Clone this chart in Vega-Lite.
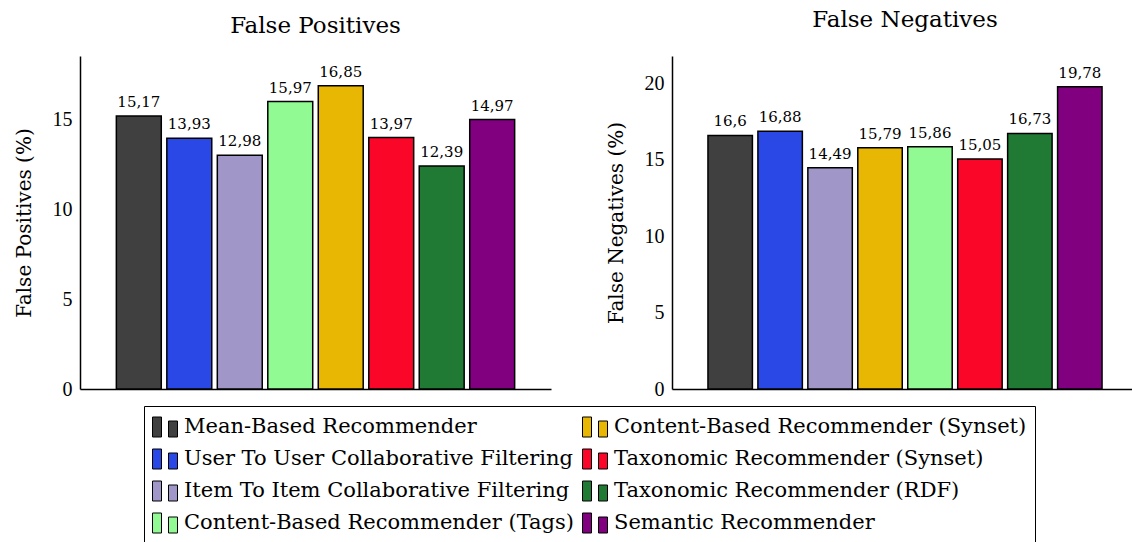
{
  "$schema": "https://vega.github.io/schema/vega-lite/v6.json",
  "background": "white",
  "padding": {"left": 14, "top": 9, "right": 0, "bottom": 0},
  "datasets": {
    "fp": [
      {"method": "Mean-Based Recommender", "value": 15.17},
      {"method": "User To User Collaborative Filtering", "value": 13.93},
      {"method": "Item To Item Collaborative Filtering", "value": 12.98},
      {"method": "Content-Based Recommender (Tags)", "value": 15.97},
      {"method": "Content-Based Recommender (Synset)", "value": 16.85},
      {"method": "Taxonomic Recommender (Synset)", "value": 13.97},
      {"method": "Taxonomic Recommender (RDF)", "value": 12.39},
      {"method": "Semantic Recommender", "value": 14.97}
    ],
    "fn": [
      {"method": "Mean-Based Recommender", "value": 16.6},
      {"method": "User To User Collaborative Filtering", "value": 16.88},
      {"method": "Item To Item Collaborative Filtering", "value": 14.49},
      {"method": "Content-Based Recommender (Synset)", "value": 15.79},
      {"method": "Content-Based Recommender (Tags)", "value": 15.86},
      {"method": "Taxonomic Recommender (Synset)", "value": 15.05},
      {"method": "Taxonomic Recommender (RDF)", "value": 16.73},
      {"method": "Semantic Recommender", "value": 19.78}
    ]
  },
  "spacing": 55,
  "hconcat": [
    {
      "width": 471,
      "height": 333,
      "title": {"text": "False Positives", "offset": 18},
      "data": {"name": "fp"},
      "encoding": {
        "x": {
          "field": "method", "type": "nominal",
          "sort": ["Mean-Based Recommender", "User To User Collaborative Filtering", "Item To Item Collaborative Filtering", "Content-Based Recommender (Tags)", "Content-Based Recommender (Synset)", "Taxonomic Recommender (Synset)", "Taxonomic Recommender (RDF)", "Semantic Recommender"],
          "scale": {"paddingInner": 0.11, "paddingOuter": 0.72},
          "axis": {"labels": false, "ticks": false, "title": null}
        },
        "y": {
          "field": "value", "type": "quantitative",
          "scale": {"domain": [0, 18.5], "nice": false},
          "axis": {"values": [0, 5, 10, 15], "title": "False Positives (%)"}
        }
      },
      "layer": [
        {
          "mark": {"type": "bar", "stroke": "black", "strokeWidth": 1.5},
          "encoding": {
            "color": {
              "field": "method", "type": "nominal",
              "scale": {
                "domain": ["Mean-Based Recommender", "User To User Collaborative Filtering", "Item To Item Collaborative Filtering", "Content-Based Recommender (Tags)", "Content-Based Recommender (Synset)", "Taxonomic Recommender (Synset)", "Taxonomic Recommender (RDF)", "Semantic Recommender"],
                "range": ["#404040", "#2948E6", "#A096C8", "#92FA92", "#E8B704", "#FA0628", "#207A34", "#800080"]
              },
              "legend": {"title": null}
            }
          }
        },
        {
          "mark": {"type": "text", "dy": -9, "baseline": "alphabetic", "font": "DejaVu Serif", "fontSize": 15, "color": "black"},
          "encoding": {"text": {"field": "value", "type": "quantitative", "format": ".2~f"}}
        }
      ]
    },
    {
      "width": 466,
      "height": 333,
      "title": {"text": "False Negatives", "offset": 24},
      "data": {"name": "fn"},
      "encoding": {
        "x": {
          "field": "method", "type": "nominal",
          "sort": ["Mean-Based Recommender", "User To User Collaborative Filtering", "Item To Item Collaborative Filtering", "Content-Based Recommender (Synset)", "Content-Based Recommender (Tags)", "Taxonomic Recommender (Synset)", "Taxonomic Recommender (RDF)", "Semantic Recommender"],
          "scale": {"paddingInner": 0.11, "paddingOuter": 0.72},
          "axis": {"labels": false, "ticks": false, "title": null}
        },
        "y": {
          "field": "value", "type": "quantitative",
          "scale": {"domain": [0, 21.8], "nice": false},
          "axis": {"values": [0, 5, 10, 15, 20], "title": "False Negatives (%)"}
        }
      },
      "layer": [
        {
          "mark": {"type": "bar", "stroke": "black", "strokeWidth": 1.5},
          "encoding": {
            "color": {"field": "method", "type": "nominal", "legend": {"title": null}}
          }
        },
        {
          "mark": {"type": "text", "dy": -9, "baseline": "alphabetic", "font": "DejaVu Serif", "fontSize": 15, "color": "black"},
          "encoding": {"text": {"field": "value", "type": "quantitative", "format": ".2~f"}}
        }
      ]
    }
  ],
  "config": {
    "locale": {"number": {"decimal": ",", "thousands": ".", "grouping": [3], "currency": ["", " €"]}},
    "font": "DejaVu Serif",
    "view": {"stroke": null},
    "title": {"font": "DejaVu Serif", "fontSize": 23, "fontWeight": "normal", "color": "black", "anchor": "middle"},
    "axis": {
      "domainColor": "black", "domainWidth": 1.5, "ticks": false, "grid": false,
      "labelFont": "Liberation Serif", "labelFontSize": 20, "labelColor": "black", "labelPadding": 8,
      "titleFont": "DejaVu Serif", "titleFontSize": 20, "titleFontWeight": "normal", "titleColor": "black", "titlePadding": 18
    },
    "legend": {
      "orient": "none", "legendX": 64, "legendY": 350,
      "columns": 2, "columnPadding": 6, "rowPadding": 7,
      "strokeColor": "black", "padding": 8, "fillColor": "white",
      "labelFont": "DejaVu Serif", "labelFontSize": 21, "labelColor": "black", "labelOffset": 6, "labelLimit": 0,
      "symbolType": "M-1,-0.8H-0.28V0.8H-1Z M0.28,-0.48H1V0.8H0.28Z",
      "symbolSize": 625, "symbolStrokeColor": "black", "symbolStrokeWidth": 1, "symbolOpacity": 1
    }
  }
}
